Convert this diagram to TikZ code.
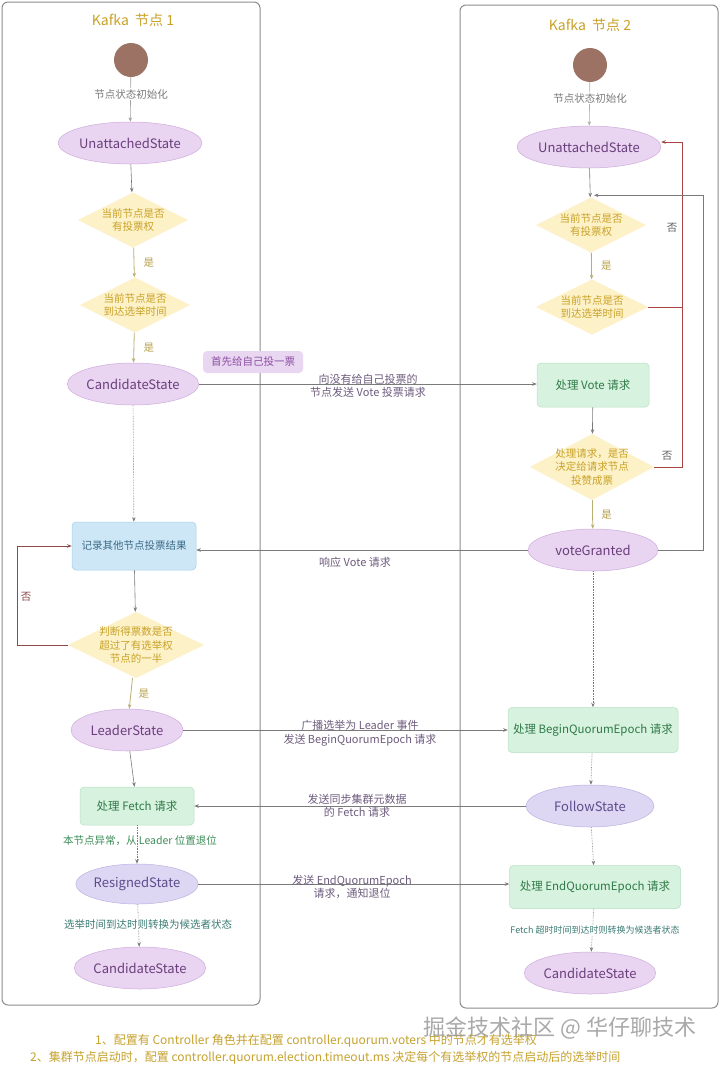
\documentclass[tikz,border=0pt]{standalone}
\usepackage{fontspec}
\setmainfont{Noto Sans CJK SC}
\usetikzlibrary{shapes.geometric,arrows.meta}
\definecolor{framec}{HTML}{8C8C8C}
\definecolor{titlec}{HTML}{C9A227}
\definecolor{startc}{HTML}{9C7264}
\definecolor{stfill}{HTML}{E9D4F1}
\definecolor{stdraw}{HTML}{CFADDC}
\definecolor{sttext}{HTML}{6B3F7C}
\definecolor{lavfill}{HTML}{DDD7F3}
\definecolor{lavdraw}{HTML}{BDB2E2}
\definecolor{lavtext}{HTML}{5B4D8C}
\definecolor{decfill}{HTML}{FDF1C8}
\definecolor{dectext}{HTML}{C9A227}
\definecolor{grfill}{HTML}{D7F2DE}
\definecolor{grdraw}{HTML}{B6E0C2}
\definecolor{grtext}{HTML}{2F7A48}
\definecolor{blfill}{HTML}{CDE7F6}
\definecolor{bldraw}{HTML}{A3D0EA}
\definecolor{bltext}{HTML}{3C6A86}
\definecolor{arrc}{HTML}{7A7A7A}
\definecolor{yesc}{HTML}{B8A14A}
\definecolor{yesline}{HTML}{B9AE72}
\definecolor{noc}{HTML}{8E4A4A}
\definecolor{redc}{HTML}{A84444}
\definecolor{lblc}{HTML}{6E5C7E}
\definecolor{notefill}{HTML}{E9D6F1}
\definecolor{notetext}{HTML}{8B4FA3}
\definecolor{greenlbl}{HTML}{3E8C58}
\definecolor{teallbl}{HTML}{3C7C74}
\definecolor{footc}{HTML}{C6A22E}
\definecolor{wmc}{HTML}{9A9A9A}
\definecolor{initc}{HTML}{7A7A7A}
\begin{document}
\begin{tikzpicture}[x=1pt,y=-1pt,
  frame/.style={draw=framec, line width=1pt, rounded corners=6pt},
  titlenode/.style={text=titlec, font=\fontsize{14}{16}\selectfont},
  startnode/.style={circle, fill=startc, minimum size=34pt, inner sep=0pt},
  st/.style={ellipse, fill=stfill, draw=stdraw, line width=0.5pt, text=sttext,
    minimum width=130pt, minimum height=42pt, inner sep=0pt, font=\fontsize{13}{15}\selectfont},
  stlav/.style={st, fill=lavfill, draw=lavdraw, text=lavtext},
  dec/.style={minimum width=110pt, minimum height=55pt, inner sep=0pt, align=center,
    text=dectext, font=\fontsize{10.5}{13.5}\selectfont,
    path picture={\fill[decfill] (path picture bounding box.north) -- (path picture bounding box.east)
      -- (path picture bounding box.south) -- (path picture bounding box.west) -- cycle;}},
  grbox/.style={rectangle, rounded corners=4pt, fill=grfill, draw=grdraw, line width=0.5pt,
    text=grtext, inner sep=0pt, font=\fontsize{11.5}{13}\selectfont},
  blbox/.style={rectangle, rounded corners=4pt, fill=blfill, draw=bldraw, line width=0.5pt,
    text=bltext, inner sep=0pt, font=\fontsize{10.5}{13}\selectfont},
  arr/.style={-{Stealth[length=4.5pt,width=3.5pt]}, draw=arrc, line width=0.6pt},
  darr/.style={arr, densely dotted},
  yarr/.style={arr, draw=yesline, line width=0.8pt},
  redarr/.style={arr, draw=redc, line width=0.8pt},
  noarr/.style={arr, draw=noc, line width=0.8pt},
  yeslbl/.style={text=yesc, font=\fontsize{10.5}{12}\selectfont},
  nolbl/.style={text=noc, font=\fontsize{10.5}{12}\selectfont},
  lbl/.style={text=lblc, align=center, font=\fontsize{11}{13.5}\selectfont},
  initlbl/.style={text=initc, font=\fontsize{10.5}{12}\selectfont, fill=white, inner sep=1pt},
  foot/.style={text=footc, font=\fontsize{12}{14}\selectfont, anchor=west, inner sep=0pt}
]
\useasboundingbox (0,0) rectangle (720,1069);
\fill[white] (0,0) rectangle (720,1069);

% frames
\draw[frame] (2,2) rectangle (260,1005);
\draw[frame] (460,5) rectangle (718,1008);

% ---------- node 1 ----------
\node[titlenode] (t1) at (133,20) {Kafka\ \ 节点 1};
\node[startnode] (s1) at (131,60) {};
\node[st] (u1) at (130,143) {UnattachedState};
\node[dec] (d1) at (133,220) {当前节点是否\\有投票权};
\node[dec] (d2) at (135,305) {当前节点是否\\到达选举时间};
\node[st] (c1) at (133,384) {CandidateState};
\node[rectangle, rounded corners=4pt, fill=notefill, text=notetext, minimum width=100pt,
  minimum height=22pt, font=\fontsize{10.5}{12}\selectfont] (note) at (253,362) {首先给自己投一票};
\node[blbox, minimum width=124pt, minimum height=48pt] (rec) at (134,546) {记录其他节点投票结果};
\node[dec, minimum width=136pt, minimum height=66pt] (d3) at (136,645) {判断得票数是否\\超过了有选举权\\节点的一半};
\node[st, minimum width=112pt] (lead) at (127,730) {LeaderState};
\node[grbox, minimum width=114pt, minimum height=38pt] (fetch) at (137,806) {处理 Fetch 请求};
\node[stlav, minimum width=118pt, minimum height=40pt] (res) at (137,884) {ResignedState};
\node[st, minimum width=128pt] (c1b) at (140,968) {CandidateState};

% ---------- node 2 ----------
\node[titlenode] (t2) at (590,25) {Kafka\ \ 节点 2};
\node[startnode] (s2) at (590,65) {};
\node[st] (u2) at (589,147) {UnattachedState};
\node[dec] (r1) at (591,225) {当前节点是否\\有投票权};
\node[dec, minimum width=112pt] (r2) at (592,307) {当前节点是否\\到达选举时间};
\node[grbox, minimum width=112pt, minimum height=44pt] (vote) at (593,385) {处理 Vote 请求};
\node[dec, minimum width=124pt, minimum height=66pt] (r3) at (592,467) {处理请求，是否\\决定给请求节点\\投赞成票};
\node[st] (vg) at (593,550) {voteGranted};
\node[grbox, minimum width=170pt, minimum height=45pt] (bqe) at (593,730) {处理 BeginQuorumEpoch 请求};
\node[stlav, minimum width=128pt] (follow) at (590,806) {FollowState};
\node[grbox, minimum width=171pt, minimum height=43pt] (eqe) at (595,887) {处理 EndQuorumEpoch 请求};
\node[st] (c2b) at (590,973) {CandidateState};

\coordinate (k1) at (682,0);
\coordinate (k2) at (703,0);
\coordinate (k0) at (17,0);

% ---------- connectors node 1 ----------
\draw[arr, draw=arrc!70] (s1) -- (u1);
\node[initlbl] (i1) at (131,94) {节点状态初始化};
\draw[arr] (u1) -- (d1);
\draw[yarr] (d1) -- node[yeslbl, right=6pt] (y1) {是} (d2);
\draw[yarr] (d2) -- node[yeslbl, right=6pt] (y2) {是} (c1);
\draw[arr] (c1.east) -- (c1.east -| vote.west);
\node[lbl] (l1) at (368,386) {向没有给自己投票的\\节点发送 Vote 投票请求};
\draw[darr] (c1) -- (rec);
\draw[arr] (rec) -- (d3);
\draw[noarr] (d3.west) -- (d3.west -| k0) |- (rec.west);
\node[nolbl] (n1) at (26,597) {否};
\draw[yarr] (d3) -- node[yeslbl, right=4pt] (y3) {是} (lead);
\draw[arr] (lead.east) -- (lead.east -| bqe.west);
\node[lbl] (l2) at (360,733) {广播选举为 Leader 事件\\发送 BeginQuorumEpoch 请求};
\draw[arr] (lead) -- (fetch);
\draw[arr] (follow.west) -- (follow.west -| fetch.east);
\node[lbl] (l3) at (357,806) {发送同步集群元数据\\的 Fetch 请求};
\draw[darr] (fetch) -- (res);
\node[text=greenlbl, font=\fontsize{10.5}{12}\selectfont] (g1) at (140,841) {本节点异常，从 Leader 位置退位};
\draw[arr] (res.east) -- (res.east -| eqe.west);
\node[lbl] (l4) at (352,887) {发送 EndQuorumEpoch\\请求，通知退位};
\draw[darr] (res) -- (c1b);
\node[text=teallbl, font=\fontsize{10.5}{12}\selectfont, fill=white, inner sep=1pt] (g2) at (148,924) {选举时间到达时则转换为候选者状态};

% ---------- connectors node 2 ----------
\draw[arr, draw=arrc!60] (s2) -- (u2);
\node[initlbl] (i2) at (590,98) {节点状态初始化};
\draw[arr] (u2) -- (r1);
\draw[yarr] (r1) -- node[yeslbl, right=6pt] (y4) {是} (r2);
\draw[redarr] (r2.east) -- (r2.east -| k1) |- ([yshift=5pt]u2.east);
\draw[redc, line width=0.8pt] (r3.east) -- (r3.east -| k1) -- (r2.east -| k1);
\node[text=arrc!120, font=\fontsize{10.5}{12}\selectfont] (n2) at (672,228) {否};
\node[text=arrc!120, font=\fontsize{10.5}{12}\selectfont] (n3) at (667,456) {否};
\draw[arr] (vote) -- (r3);
\draw[yarr] (r3) -- node[yeslbl, right=5pt] (y5) {是} (vg);
\draw[arr] (vg.west) -- (vg.west -| rec.east);
\node[lbl] (l5) at (355,562) {响应 Vote 请求};
\draw[arr] (vg.east) -- (vg.east -| k2) |- ([xshift=3pt,yshift=2pt]r1.north);
\draw[darr] (vg) -- (bqe);
\draw[darr] (bqe) -- (follow);
\draw[darr] (follow) -- (eqe);
\draw[darr] (eqe) -- (c2b);
\node[text=teallbl, font=\fontsize{9}{11}\selectfont, fill=white, inner sep=1pt] (g3) at (595,930) {Fetch 超时时间到达时则转换为候选者状态};

% ---------- footnotes ----------
\node[foot] (f1) at (95,1041) {1、配置有 Controller 角色并在配置 controller.quorum.voters 中的节点才有选举权};
\node[foot] (f2) at (30,1058) {2、集群节点启动时，配置 controller.quorum.election.timeout.ms 决定每个有选举权的节点启动后的选举时间};
\node[text=wmc, font=\fontsize{22}{24}\selectfont, opacity=0.85] (wm) at (560,1028) {掘金技术社区 @ 华仔聊技术};
\end{tikzpicture}
\end{document}
